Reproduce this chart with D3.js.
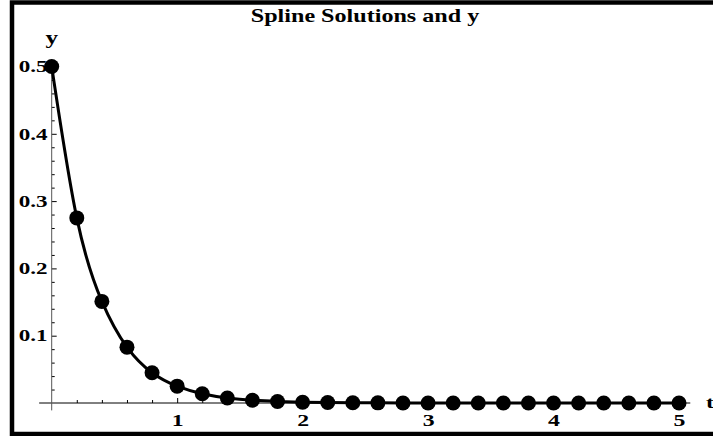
<!DOCTYPE html>
<html>
<head>
<meta charset="utf-8">
<script src="https://cdn.jsdelivr.net/npm/d3@7"></script>
<style>
  body { margin: 0; background: #fff; }
  svg { display: block; }
  text { font-family: "Liberation Serif", "Times New Roman", serif; font-weight: bold; fill: #000; }
</style>
</head>
<body>
<div id="chart"></div>
<script>
// spline nodes, t = 0, 0.2, ..., 5
const tValues = [0, 0.2, 0.4, 0.6, 0.8, 1.0, 1.2, 1.4, 1.6, 1.8, 2.0, 2.2, 2.4,
  2.6, 2.8, 3.0, 3.2, 3.4, 3.6, 3.8, 4.0, 4.2, 4.4, 4.6, 4.8, 5.0];
const yValues = [0.5, 0.275, 0.151, 0.083, 0.045, 0.025, 0.0137, 0.0075, 0.0041,
  0.0023, 0.0012, 0.0007, 0.0004, 0.0002, 0.0001, 0.0001, 0, 0, 0, 0, 0, 0, 0, 0, 0, 0];
const xTicks = [1, 2, 3, 4, 5];
const xMinorTicks = [0.2, 0.4, 0.6, 0.8, 1.2, 1.4, 1.6, 1.8, 2.2, 2.4, 2.6, 2.8,
  3.2, 3.4, 3.6, 3.8, 4.2, 4.4, 4.6, 4.8];
const yTicks = [0.1, 0.2, 0.3, 0.4, 0.5];
const yMinorTicks = [0.02, 0.04, 0.06, 0.08, 0.12, 0.14, 0.16, 0.18, 0.22, 0.24, 0.26, 0.28,
  0.32, 0.34, 0.36, 0.38, 0.42, 0.44, 0.46, 0.48];
const title = "Spline Solutions and y";

const width = 713, height = 436;
const stretch = 1.4; // the original graphic is widened horizontally

const svg = d3.select("#chart").append("svg")
  .attr("width", width)
  .attr("height", height);

const x = d3.scaleLinear().domain([0, 5]).range([51.7, 679]);
const y = d3.scaleLinear().domain([0, 0.5]).range([403, 66.5]);

// frame (right edge falls outside the picture)
svg.append("rect")
  .attr("x", 12).attr("y", 2.5)
  .attr("width", 760).attr("height", 431.5)
  .attr("fill", "none")
  .attr("stroke", "#000")
  .attr("stroke-width", 4.5);

// minor ticks first, then the major axes on top
svg.append("g")
  .attr("transform", `translate(0,${y(0)})`)
  .call(d3.axisBottom(x).tickValues(xMinorTicks).tickSize(-3).tickFormat(""))
  .call(g => g.select(".domain").remove());

svg.append("g")
  .attr("transform", `translate(${x(0)},0)`)
  .call(d3.axisLeft(y).tickValues(yMinorTicks).tickSize(-3).tickFormat(""))
  .call(g => g.select(".domain").remove());

const xAxis = svg.append("g")
  .attr("transform", `translate(0,${y(0)})`)
  .call(d3.axisBottom(x).tickValues(xTicks).tickSize(-5).tickPadding(11).tickFormat(d3.format("d")))
  .call(g => g.select(".domain").remove());
xAxis.selectAll("text")
  .style("font-size", "17px")
  .attr("transform", `scale(${stretch},1)`);

const yAxis = svg.append("g")
  .attr("transform", `translate(${x(0)},0)`)
  .call(d3.axisLeft(y).tickValues(yTicks).tickSize(-5).tickPadding(3).tickFormat(d3.format(".1f")))
  .call(g => g.select(".domain").remove());
yAxis.selectAll("text")
  .style("font-size", "16.5px")
  .attr("transform", `scale(${stretch},1)`);

svg.selectAll(".tick line").attr("stroke", "#000");

// axis lines
svg.append("line")
  .attr("x1", x(-0.1)).attr("x2", x(5.09))
  .attr("y1", y(0)).attr("y2", y(0))
  .attr("stroke", "#000").attr("stroke-width", 1);
svg.append("line")
  .attr("x1", x(0)).attr("x2", x(0))
  .attr("y1", y(-0.011)).attr("y2", y(0.503))
  .attr("stroke", "#555").attr("stroke-width", 1);

// exact solution curve
const pts = tValues.map((t, i) => [t, yValues[i]]);
svg.append("path")
  .datum(pts)
  .attr("fill", "none")
  .attr("stroke", "#000")
  .attr("stroke-width", 3)
  .attr("d", d3.line().x(d => x(d[0])).y(d => y(d[1])).curve(d3.curveNatural));

// spline nodes
svg.append("g")
  .selectAll("circle")
  .data(pts)
  .join("circle")
  .attr("cx", d => x(d[0]))
  .attr("cy", d => y(d[1]))
  .attr("r", 7.5)
  .attr("fill", "#000");

// labels
function label(text, px, py, size, anchor, sx) {
  svg.append("text")
    .attr("transform", `translate(${px},${py}) scale(${sx},1)`)
    .attr("text-anchor", anchor)
    .style("font-size", size + "px")
    .text(text);
}

label(title, 365, 22, 18, "middle", 1.34);
label("y", x(0), 44, 18, "middle", stretch);
label("t", 706, 408, 17, "start", stretch);
</script>
</body>
</html>
